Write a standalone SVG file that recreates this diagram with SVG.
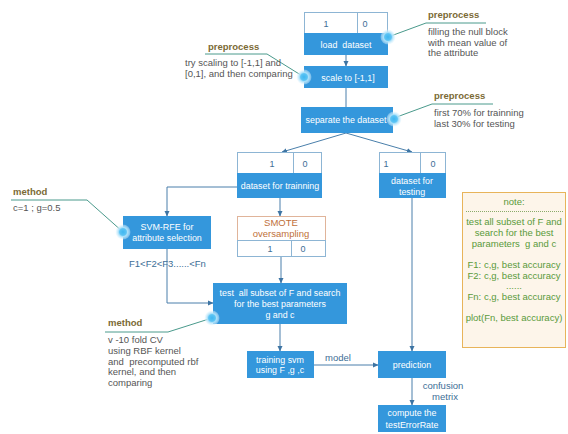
<svg xmlns="http://www.w3.org/2000/svg" width="568" height="434" viewBox="0 0 568 434">
<defs>
<radialGradient id="glow" cx="0.5" cy="0.5" r="0.5">
<stop offset="0" stop-color="#3fb6f0"/>
<stop offset="0.45" stop-color="#5cc4f4"/>
<stop offset="0.6" stop-color="#a9e0fa"/>
<stop offset="1" stop-color="#e3f5fd" stop-opacity="0.3"/>
</radialGradient>
<marker id="arr" markerWidth="6" markerHeight="6" refX="5" refY="3" orient="auto" markerUnits="userSpaceOnUse">
<path d="M0,0.5 L5.5,3 L0,5.5 z" fill="#3d74a3"/>
</marker>
<style>
.box{fill:#3497dc;}
.tbl{fill:#ffffff;stroke:#8db5d4;stroke-width:1;}
.wt{font-family:"Liberation Sans",Arial,sans-serif;font-size:8.9px;fill:#ffffff;text-anchor:middle;}
.num{font-family:"Liberation Sans",Arial,sans-serif;font-size:9px;fill:#3d6e96;text-anchor:middle;}
.lbl{font-family:"Liberation Sans",Arial,sans-serif;font-size:9.5px;fill:#7b6a35;font-weight:bold;}
.ann{font-family:"Liberation Sans",Arial,sans-serif;font-size:9.5px;fill:#555555;}
.bl{font-family:"Liberation Sans",Arial,sans-serif;font-size:9.5px;fill:#3d6e96;}
.note{font-family:"Liberation Sans",Arial,sans-serif;font-size:9.5px;fill:#5a9a3a;text-anchor:middle;}
.con{fill:none;stroke:#4a7fab;stroke-width:1;}
.aline{fill:none;stroke:#4a9a8c;stroke-width:1;}
</style>
</defs>
<rect width="568" height="434" fill="#ffffff"/>

<g id="connectors">
<path class="con" d="M346,55 L346,66" marker-end="url(#arr)"/>
<path class="con" d="M346,88 L346,107"/>
<path class="con" d="M346,133 L282,152" marker-end="url(#arr)"/>
<path class="con" d="M346,133 L412,152" marker-end="url(#arr)"/>
<path class="con" d="M280,198 L280,216" marker-end="url(#arr)"/>
<path class="con" d="M237,187 L167,187 L167,216" marker-end="url(#arr)"/>
<path class="con" d="M281,240 L281,283" marker-end="url(#arr)"/>
<path class="con" d="M167,249 L167,303 L213,303" marker-end="url(#arr)"/>
<path class="con" d="M280,324 L280,351" marker-end="url(#arr)"/>
<path class="con" d="M314,365 L378,365" marker-end="url(#arr)"/>
<path class="con" d="M412,198 L412,351" marker-end="url(#arr)"/>
<path class="con" d="M412,378 L412,405" marker-end="url(#arr)"/>
<text class="bl" x="338" y="361" text-anchor="middle">model</text>
<text class="bl" x="443" y="389" text-anchor="middle">confusion</text>
<text class="bl" x="445" y="400" text-anchor="middle">metrix</text>
<text class="bl" x="129" y="267">F1&lt;F2&lt;F3......&lt;Fn</text>
</g>

<g id="load-dataset">
<rect class="tbl" x="304.5" y="12.5" width="83" height="21"/>
<line x1="357.5" y1="12.5" x2="357.5" y2="33.5" stroke="#8db5d4"/>
<text class="num" x="326" y="27">1</text>
<text class="num" x="365" y="27">0</text>
<rect class="box" x="304" y="33" width="84" height="22"/>
<text class="wt" x="346" y="47.5" xml:space="preserve">load  dataset</text>
</g>

<g id="note-load">
<path class="aline" d="M388,37 L426,23 L486,23"/>
<circle cx="388" cy="37" r="7.5" fill="url(#glow)"/>
<text class="lbl" x="428" y="18">preprocess</text>
<text class="ann" x="428" y="35">filling the null block</text>
<text class="ann" x="428" y="46">with mean value of</text>
<text class="ann" x="428" y="56">the attribute</text>
</g>

<g id="scale">
<rect class="box" x="304" y="66" width="84" height="22"/>
<text class="wt" x="348" y="80.5">scale to [-1,1]</text>
</g>

<g id="note-scale">
<path class="aline" d="M304,77 L267,54 L205,54"/>
<circle cx="304" cy="77" r="7.5" fill="url(#glow)"/>
<text class="lbl" x="208" y="50">preprocess</text>
<text class="ann" x="185" y="66">try scaling to [-1,1] and</text>
<text class="ann" x="185" y="77">[0,1], and then comparing</text>
</g>

<g id="separate">
<rect class="box" x="301" y="107" width="92" height="26"/>
<text class="wt" x="346" y="123">separate the dataset</text>
</g>

<g id="note-separate">
<path class="aline" d="M394,118 L432,104 L493,104"/>
<circle cx="394" cy="119" r="7.5" fill="url(#glow)"/>
<text class="lbl" x="434" y="99">preprocess</text>
<text class="ann" x="434" y="116">first 70% for trainning</text>
<text class="ann" x="434" y="127">last 30% for testing</text>
</g>

<g id="train">
<rect class="tbl" x="237.5" y="152.5" width="84" height="21"/>
<line x1="293.5" y1="152.5" x2="293.5" y2="173.5" stroke="#8db5d4"/>
<text class="num" x="272" y="167">1</text>
<text class="num" x="305" y="167">0</text>
<rect class="box" x="237" y="173" width="85" height="25"/>
<text class="wt" x="280" y="189">dataset for trainning</text>
</g>

<g id="test">
<rect class="tbl" x="379.5" y="152.5" width="66" height="21"/>
<line x1="420.5" y1="152.5" x2="420.5" y2="173.5" stroke="#8db5d4"/>
<text class="num" x="386" y="167">1</text>
<text class="num" x="433" y="167">0</text>
<rect class="box" x="379" y="173" width="67" height="25"/>
<text class="wt" x="412" y="184">dataset for</text>
<text class="wt" x="412" y="195">testing</text>
</g>

<g id="smote">
<rect x="237.5" y="216.5" width="88" height="24" fill="#ffffff" stroke="#e0b49a"/>
<text x="281" y="226" font-family="Liberation Sans, Arial, sans-serif" font-size="9.5" fill="#c0703a" text-anchor="middle">SMOTE</text>
<text x="281" y="237" font-family="Liberation Sans, Arial, sans-serif" font-size="9.5" fill="#c0703a" text-anchor="middle">oversampling</text>
<rect class="tbl" x="237.5" y="240.5" width="88" height="16"/>
<line x1="291.5" y1="240.5" x2="291.5" y2="256.5" stroke="#8db5d4"/>
<text class="num" x="270" y="252">1</text>
<text class="num" x="303" y="252">0</text>
</g>

<g id="svm-rfe">
<rect class="box" x="123" y="216" width="88" height="33"/>
<text class="wt" x="167" y="230">SVM-RFE for</text>
<text class="wt" x="167" y="241">attribute selection</text>
</g>

<g id="note-rfe">
<path class="aline" d="M123,232 L87,200 L11,200"/>
<circle cx="123" cy="232" r="7.5" fill="url(#glow)"/>
<text class="lbl" x="13" y="195">method</text>
<text class="ann" x="13" y="211">c=1 ; g=0.5</text>
</g>

<g id="search">
<rect class="box" x="213" y="283" width="134" height="41"/>
<text class="wt" x="280" y="296" xml:space="preserve">test  all subset of F and search</text>
<text class="wt" x="280" y="307">for the best parameters</text>
<text class="wt" x="280" y="318">g and c</text>
</g>

<g id="note-search">
<path class="aline" d="M212,318 L168,332 L105,332"/>
<circle cx="212" cy="318" r="7.5" fill="url(#glow)"/>
<text class="lbl" x="108" y="326">method</text>
<text class="ann" x="108" y="343">v -10 fold CV</text>
<text class="ann" x="108" y="354">using RBF kernel</text>
<text class="ann" x="108" y="365" xml:space="preserve">and  precomputed rbf</text>
<text class="ann" x="108" y="375">kernel, and then</text>
<text class="ann" x="108" y="386">comparing</text>
</g>

<g id="training-svm">
<rect class="box" x="247" y="351" width="67" height="27"/>
<text class="wt" x="280" y="363">training svm</text>
<text class="wt" x="280" y="373">using F ,g ,c</text>
</g>

<g id="prediction">
<rect class="box" x="378" y="351" width="68" height="27"/>
<text class="wt" x="412" y="367.5">prediction</text>
</g>

<g id="compute">
<rect class="box" x="378" y="405" width="68" height="27"/>
<text class="wt" x="412" y="416">compute the</text>
<text class="wt" x="412" y="428">testErrorRate</text>
</g>

<g id="note">
<rect x="462.5" y="192.5" width="103" height="155" fill="#fdf5ea" stroke="#e8b45a"/>
<text class="note" x="514" y="205">note:</text>
<line x1="466" y1="211.5" x2="563" y2="211.5" stroke="#8aab6a" stroke-dasharray="1,1"/>
<text class="note" x="514" y="225">test all subset of F and</text>
<text class="note" x="514" y="236">search for the best</text>
<text class="note" x="514" y="247" xml:space="preserve">parameters  g and c</text>
<text class="note" x="514" y="268">F1: c,g, best accuracy</text>
<text class="note" x="514" y="279">F2: c,g, best accuracy</text>
<text class="note" x="514" y="289" font-size="7">......</text>
<text class="note" x="514" y="300">Fn: c,g, best accuracy</text>
<text class="note" x="514" y="321">plot(Fn, best accuracy)</text>
</g>
</svg>
